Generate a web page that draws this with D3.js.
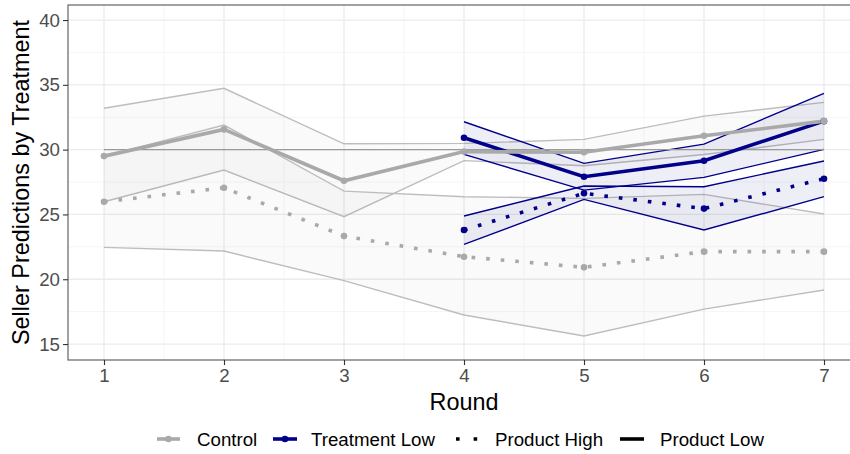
<!DOCTYPE html>
<html>
<head>
<meta charset="utf-8">
<script src="https://cdn.jsdelivr.net/npm/d3@7"></script>
<style>
  body { margin: 0; background: #fff; }
  svg { display: block; font-family: "Liberation Sans", Arial, sans-serif; }
</style>
</head>
<body>
<svg id="chart" width="850" height="454"></svg>
<script>
// Rounds on the x axis
const rounds = [1, 2, 3, 4, 5, 6, 7];
const treatmentRounds = [4, 5, 6, 7];

// Control group: Product Low (mean and confidence band)
const controlLowMean  = [29.5, 31.56, 27.6, 29.85, 29.8, 31.07, 32.2];
const controlLowUpper = [33.19, 34.73, 30.45, 30.48, 30.79, 32.59, 33.65];
const controlLowLower = [25.98, 28.43, 24.83, 29.15, 28.76, 29.63, 30.79];

// Control group: Product High
const controlHighMean  = [25.98, 27.06, 23.33, 21.74, 20.92, 22.13, 22.13];
const controlHighUpper = [29.5, 31.9, 26.8, 26.37, 26.24, 26.55, 25.03];
const controlHighLower = [22.46, 22.18, 19.89, 17.24, 15.62, 17.7, 19.17];

// Treatment Low group (rounds 4-7): Product Low
const treatLowMean  = [30.92, 27.91, 29.14, 32.2];
const treatLowUpper = [32.15, 28.94, 30.43, 34.34];
const treatLowLower = [29.63, 26.88, 27.86, 30.02];

// Treatment Low group (rounds 4-7): Product High
const treatHighMean  = [23.8, 26.63, 25.45, 27.76];
const treatHighUpper = [24.88, 27.19, 27.14, 29.12];
const treatHighLower = [22.69, 26.16, 23.8, 26.37];

// Reference level
const referenceValue = 30;

// Axis ticks and labels
const yTicks = [15, 20, 25, 30, 35, 40];
const yMinorTicks = [17.5, 22.5, 27.5, 32.5, 37.5];
const xMinorTicks = [1.5, 2.5, 3.5, 4.5, 5.5, 6.5];
const xTitle = "Round";
const yTitle = "Seller Predictions by Treatment";
const legendLabels = ["Control", "Treatment Low", "Product High", "Product Low"];

const GREY = "#a9a9a9";
const NAVY = "#00008b";

const svg = d3.select("#chart");
svg.append("rect").attr("width", 850).attr("height", 454).attr("fill", "#fff");

const panel = { left: 68, right: 860, top: 5, bottom: 360 };
const x = d3.scaleLinear().domain([0.7, 7.3]).range([panel.left, panel.right]);
const y = d3.scaleLinear().domain([13.77, 41.16]).range([panel.bottom, panel.top]);

// gridlines
const grid = svg.append("g");
grid.selectAll(".ymin").data(yMinorTicks).join("line")
  .attr("x1", panel.left).attr("x2", panel.right)
  .attr("y1", d => y(d)).attr("y2", d => y(d))
  .attr("stroke", "#f2f2f2").attr("stroke-width", 0.8);
grid.selectAll(".xmin").data(xMinorTicks).join("line")
  .attr("y1", panel.top).attr("y2", panel.bottom)
  .attr("x1", d => x(d)).attr("x2", d => x(d))
  .attr("stroke", "#f2f2f2").attr("stroke-width", 0.8);
grid.selectAll(".ymaj").data(yTicks).join("line")
  .attr("x1", panel.left).attr("x2", panel.right)
  .attr("y1", d => y(d)).attr("y2", d => y(d))
  .attr("stroke", "#ebebeb").attr("stroke-width", 1.3);
grid.selectAll(".xmaj").data(rounds).join("line")
  .attr("y1", panel.top).attr("y2", panel.bottom)
  .attr("x1", d => x(d)).attr("x2", d => x(d))
  .attr("stroke", "#ebebeb").attr("stroke-width", 1.3);

const line = d3.line().x(d => x(d[0])).y(d => y(d[1]));
const area = d3.area().x(d => x(d[0])).y0(d => y(d[1])).y1(d => y(d[2]));
const zip = (xs, ...cols) => xs.map((v, i) => [v, ...cols.map(c => c[i])]);

// confidence bands
function band(xs, lower, upper, fill, edge, width) {
  const g = svg.append("g");
  g.append("path").datum(zip(xs, lower, upper)).attr("d", area).attr("fill", fill);
  [lower, upper].forEach(b => {
    g.append("path").datum(zip(xs, b)).attr("d", line)
      .attr("fill", "none").attr("stroke", edge).attr("stroke-width", width);
  });
}
band(rounds, controlLowLower, controlLowUpper, "rgba(0,0,0,0.02)", "#bdbdbd", 1.4);
band(rounds, controlHighLower, controlHighUpper, "rgba(0,0,0,0.02)", "#bdbdbd", 1.4);
band(treatmentRounds, treatLowLower, treatLowUpper, "rgba(0,0,139,0.065)", NAVY, 1.4);
band(treatmentRounds, treatHighLower, treatHighUpper, "rgba(0,0,139,0.065)", NAVY, 1.4);

// reference line
svg.append("path").datum(rounds.map(r => [r, referenceValue])).attr("d", line)
  .attr("fill", "none").attr("stroke", "#9a9a9a").attr("stroke-width", 1.3);

// mean lines
function meanLine(xs, vals, color, dotted) {
  svg.append("path").datum(zip(xs, vals)).attr("d", line)
    .attr("fill", "none").attr("stroke", color).attr("stroke-width", 3.6)
    .attr("stroke-dasharray", dotted ? "3.6 11" : null);
}
meanLine(treatmentRounds, treatLowMean, NAVY, false);
meanLine(treatmentRounds, treatHighMean, NAVY, true);
meanLine(rounds, controlLowMean, GREY, false);
meanLine(rounds, controlHighMean, GREY, true);

function points(xs, vals, color) {
  svg.append("g").selectAll("circle").data(zip(xs, vals)).join("circle")
    .attr("cx", d => x(d[0])).attr("cy", d => y(d[1])).attr("r", 3.3).attr("fill", color);
}
points(treatmentRounds, treatLowMean, NAVY);
points(treatmentRounds, treatHighMean, NAVY);
points(rounds, controlLowMean, GREY);
points(rounds, controlHighMean, GREY);

// panel border
svg.append("rect").attr("x", panel.left).attr("y", panel.top)
  .attr("width", panel.right - panel.left).attr("height", panel.bottom - panel.top)
  .attr("fill", "none").attr("stroke", "#555").attr("stroke-width", 1.1);

// axes
const yAxis = svg.append("g").attr("transform", `translate(${panel.left},0)`)
  .call(d3.axisLeft(y).tickValues(yTicks).tickSize(5).tickPadding(3));
const xAxis = svg.append("g").attr("transform", `translate(0,${panel.bottom})`)
  .call(d3.axisBottom(x).tickValues(rounds).tickSize(5).tickPadding(4).tickFormat(d3.format("d")));
[yAxis, xAxis].forEach(a => {
  a.select(".domain").remove();
  a.selectAll(".tick line").attr("stroke", "#333").attr("stroke-width", 1.1);
  a.selectAll(".tick text").attr("fill", "#4d4d4d").attr("font-size", 18.7)
    .attr("font-family", "Liberation Sans, Arial, sans-serif");
});

// titles
svg.append("text").attr("x", x(4)).attr("y", 410).attr("text-anchor", "middle")
  .attr("font-size", 23.4).attr("fill", "#000").text(xTitle);
svg.append("text").attr("transform", `translate(29,${(panel.top + panel.bottom) / 2}) rotate(-90)`)
  .attr("text-anchor", "middle").attr("font-size", 23.4).attr("fill", "#000").text(yTitle);

// legend
const ly = 439;
const legend = svg.append("g");
const keys = [
  { x0: 157, x1: 180, color: GREY, dash: null, point: true, tx: 197 },
  { x0: 273, x1: 297, color: NAVY, dash: null, point: true, tx: 311 },
  { x0: 456, x1: 480, color: "#000", dash: "3.6 14", point: false, tx: 495 },
  { x0: 620, x1: 644, color: "#000", dash: null, point: false, tx: 660 }
];
keys.forEach((k, i) => {
  legend.append("line").attr("x1", k.x0).attr("x2", k.x1).attr("y1", ly).attr("y2", ly)
    .attr("stroke", k.color).attr("stroke-width", 3.6)
    .attr("stroke-dasharray", k.dash);
  if (k.point) legend.append("circle").attr("cx", (k.x0 + k.x1) / 2).attr("cy", ly)
    .attr("r", 3.3).attr("fill", k.color);
  legend.append("text").attr("x", k.tx).attr("y", 446).attr("font-size", 18.7)
    .attr("fill", "#000").text(legendLabels[i]);
});
</script>
</body>
</html>
